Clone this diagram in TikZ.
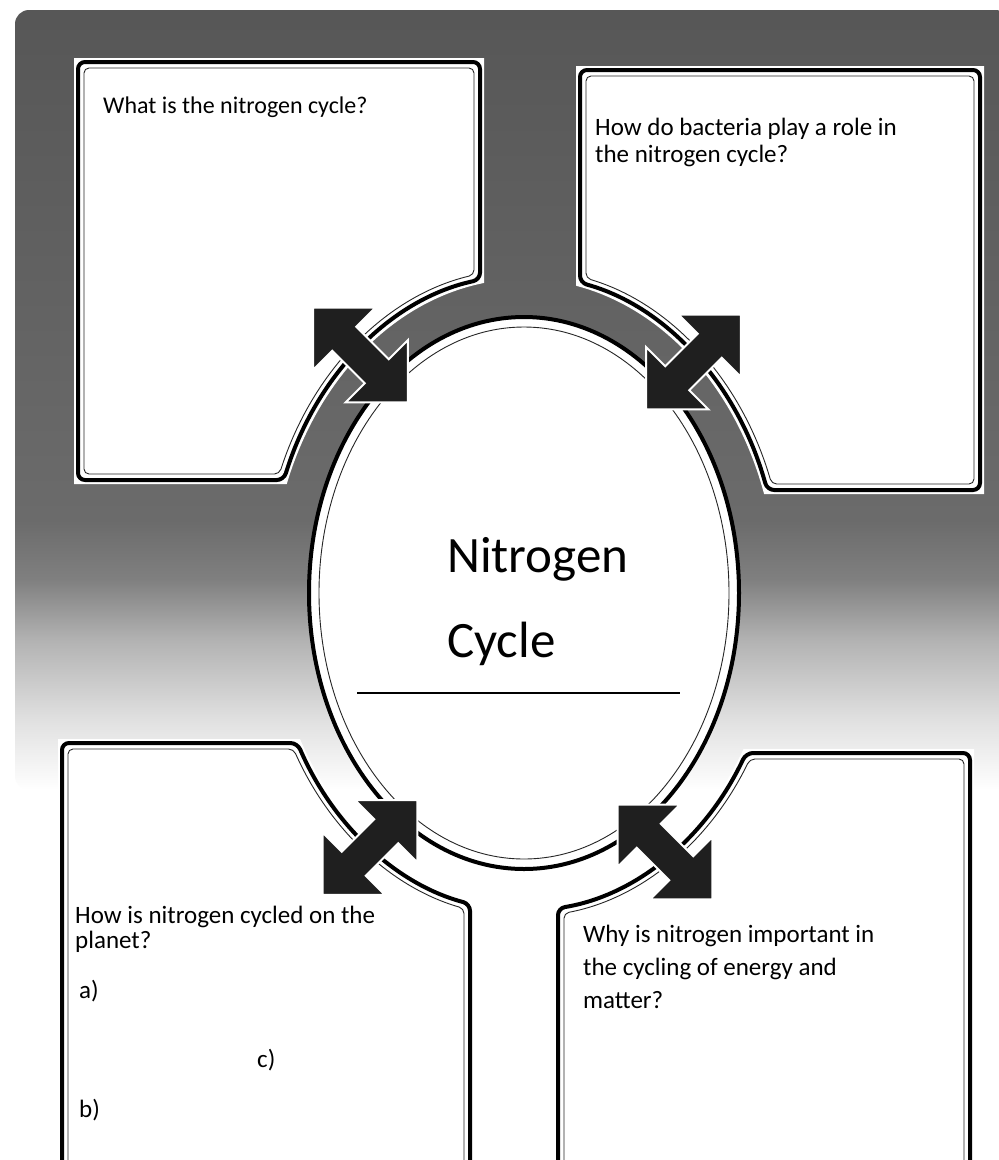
\documentclass[tikz,border=0pt]{standalone}
\usepackage{fontspec}
\setmainfont{Carlito}
\usetikzlibrary{calc}
\pgfdeclareverticalshading{bgfade}{100bp}{color(0bp)=(white); color(25bp)=(white); color(29.5bp)=(black!12); color(34.6bp)=(black!30); color(38.5bp)=(black!50); color(42.3bp)=(black!58); color(75bp)=(black!66); color(100bp)=(black!66)}
\tikzset{
  halo/.style={draw=white, line width=8pt},
  boxline/.style={draw=black, line width=4pt, fill=white, rounded corners=7pt},
  innerline/.style={draw=black!85, line width=0.9pt, rounded corners=5pt},
  arrowstyle/.style={fill=black!88, draw=white, line width=2pt, line join=miter},
  body/.style={anchor=base west, inner sep=0pt, font=\fontsize{25}{30}\selectfont},
  title/.style={anchor=base west, inner sep=0pt, font=\fontsize{51}{60}\selectfont},
}
\def\EA{215}\def\EB{276}\def\gap{42}
\newcommand\setpt{%
  \pgfmathsetmacro\px{524+\A*cos(\ta)}\pgfmathsetmacro\py{-593+\B*sin(\ta)}}
% top-left box
\newcommand\pathTL[2]{%
  \pgfmathsetmacro\A{\EA+\gap+#1}\pgfmathsetmacro\B{\EB+\gap+#1}%
  \pgfmathsetmacro\ta{acos((480-#1-524)/\A)}%
  \pgfmathsetmacro\tb{180-asin((593-480+#1)/\B)}\setpt
  \path[#2] ({78+#1},{-62-#1}) -- ({480-#1},{-62-#1}) -- ({\px},{\py}) arc[start angle=\ta, end angle=\tb, x radius=\A, y radius=\B] -- ({78+#1},{-480+#1}) -- cycle;}
% top-right box
\newcommand\pathTR[2]{%
  \pgfmathsetmacro\A{\EA+\gap+#1}\pgfmathsetmacro\B{\EB+\gap+#1}%
  \pgfmathsetmacro\ta{acos((580+#1-524)/\A)}%
  \pgfmathsetmacro\tb{asin((593-490+#1)/\B)}\setpt
  \path[#2] ({980-#1},{-490+#1}) -- ({980-#1},{-70-#1}) -- ({580+#1},{-70-#1}) -- ({\px},{\py}) arc[start angle=\ta, end angle=\tb, x radius=\A, y radius=\B] -- cycle;}
% bottom-left box
\newcommand\pathBL[2]{%
  \pgfmathsetmacro\A{\EA+\gap+#1}\pgfmathsetmacro\B{\EB+\gap+#1}%
  \pgfmathsetmacro\ta{180+asin((743+#1-593)/\B)}%
  \pgfmathsetmacro\tb{360-acos((470-#1-524)/\A)}\setpt
  \path[#2] ({62+#1},-1190) -- ({62+#1},{-743-#1}) -- ({\px},{\py}) arc[start angle=\ta, end angle=\tb, x radius=\A, y radius=\B] -- ({470-#1},-1190) -- cycle;}
% bottom-right box
\newcommand\pathBR[2]{%
  \pgfmathsetmacro\A{\EA+\gap+#1}\pgfmathsetmacro\B{\EB+\gap+#1}%
  \pgfmathsetmacro\ta{360-asin((753+#1-593)/\B)}%
  \pgfmathsetmacro\tb{360-acos((558+#1-524)/\A)}\setpt
  \path[#2] ({970-#1},-1190) -- ({970-#1},{-753-#1}) -- ({\px},{\py}) arc[start angle=\ta, end angle=\tb, x radius=\A, y radius=\B] -- ({558+#1},-1190) -- cycle;}
\newcommand\dblarrow[3]{%
  \begin{scope}[shift={(#1,-#2)}, rotate=#3]
    \path[arrowstyle] (67,0) -- (23,44) -- (23,17) -- (-23,17) -- (-23,44) -- (-67,0) -- (-23,-44) -- (-23,-17) -- (23,-17) -- (23,-44) -- cycle;
  \end{scope}}
\begin{document}
\begin{tikzpicture}[x=1pt,y=1pt]
\useasboundingbox (0,0) rectangle (999,-1160);
\clip (0,0) rectangle (999,-1160);
\fill[white] (0,0) rectangle (999,-1160);
% textured background (approximated by a fade)
\path[shading=bgfade, rounded corners=14pt] (15,-790) -- (15,-10) -- (1010,-10) -- (1010,-790) -- cycle;
% central ellipse
\draw[line width=4pt, fill=white] (524,-593) ellipse [x radius=215, y radius=276];
\draw[line width=0.9pt, black!85] (524,-593) ellipse [x radius=205, y radius=266];
% boxes
\pathTL{0}{halo}\pathTL{0}{boxline}\pathTL{6}{innerline}
\pathTR{0}{halo}\pathTR{0}{boxline}\pathTR{6}{innerline}
\pathBL{0}{halo}\pathBL{0}{boxline}\pathBL{6}{innerline}
\pathBR{0}{halo}\pathBR{0}{boxline}\pathBR{6}{innerline}
% arrows
\dblarrow{360.5}{355}{-45}
\dblarrow{693.5}{362}{45}
\dblarrow{370}{847.5}{45}
\dblarrow{665}{852}{-45}
% texts
\node[body, font=\fontsize{24}{29}\selectfont] (q1) at (103,-113) {What is the nitrogen cycle?};
\node[body] (q2a) at (595,-135) {How do bacteria play a role in};
\node[body] (q2b) at (595,-162) {the nitrogen cycle?};
\node[body] (q3a) at (75,-923) {How is nitrogen cycled on the};
\node[body] (q3b) at (75,-948) {planet?};
\node[body] (qa) at (79,-998) {a)};
\node[body] (qc) at (257,-1067) {c)};
\node[body] (qb) at (79,-1117) {b)};
\node[body] (q4a) at (583,-942) {Why is nitrogen important in};
\node[body] (q4b) at (583,-975) {the cycling of energy and};
\node[body] (q4c) at (583,-1008) {matter?};
\node[title] (t1) at (447,-572) {Nitrogen};
\node[title] (t2) at (447,-657) {Cycle};
\draw[line width=1.3pt] (357,-693) -- (680,-693);
\end{tikzpicture}
\end{document}
